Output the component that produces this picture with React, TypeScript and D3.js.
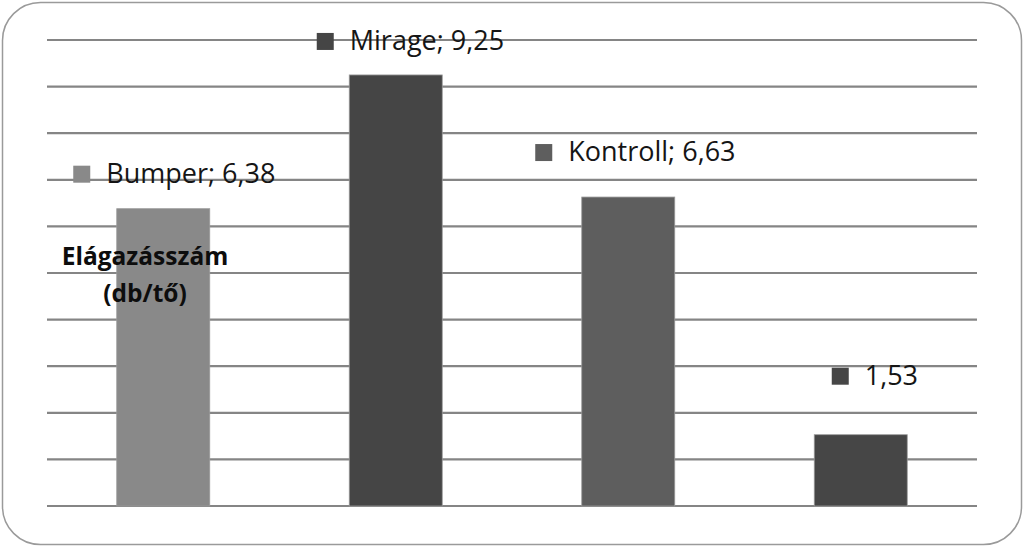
import * as d3 from 'd3';
import React, { useEffect, useRef } from 'react';

// values
const categories = ['Bumper', 'Mirage', 'Kontroll', ''];
const values = [6.38, 9.25, 6.63, 1.53];
const valueLabels = ['6,38', '9,25', '6,63', '1,53'];
const barColors = ['#898989', '#454545', '#5e5e5e', '#464646'];
const yTicks = [0, 1, 2, 3, 4, 5, 6, 7, 8, 9, 10];

// hand-placed label offsets (Excel labels were dragged)
const labelDx = [-90, -79, -93, -29];
const labelDy = [26, 25, 36, 50];

const App: React.FC = () => {
  const svgRef = useRef<SVGSVGElement>(null);
  const width = 1024;
  const height = 547;

  useEffect(() => {
    if (!svgRef.current) return;
    const svg = d3.select(svgRef.current);
    svg.selectAll('*').remove();

    const margin = { top: 40, right: 47, bottom: 41, left: 47 };
    const innerWidth = width - margin.left - margin.right;
    const innerHeight = height - margin.top - margin.bottom;

    svg.append('rect')
      .attr('x', 2.5)
      .attr('y', 2.5)
      .attr('width', width - 5)
      .attr('height', height - 5)
      .attr('rx', 38)
      .attr('fill', '#fff')
      .attr('stroke', '#9a9a9a')
      .attr('stroke-width', 1.5);

    const g = svg.append('g')
      .attr('transform', `translate(${margin.left}, ${margin.top})`);

    const x = d3.scaleBand<number>()
      .domain(d3.range(categories.length))
      .range([0, innerWidth])
      .paddingInner(0.6)
      .paddingOuter(0.3);

    const y = d3.scaleLinear()
      .domain([0, 10])
      .range([innerHeight, 0]);

    g.selectAll('.grid')
      .data(yTicks)
      .join('line')
      .attr('class', 'grid')
      .attr('x1', 0)
      .attr('x2', innerWidth)
      .attr('y1', d => y(d))
      .attr('y2', d => y(d))
      .attr('stroke', '#858585')
      .attr('stroke-width', 2.2);

    g.selectAll('.bar')
      .data(values)
      .join('rect')
      .attr('class', 'bar')
      .attr('x', (_, i) => x(i)!)
      .attr('y', d => y(d))
      .attr('width', x.bandwidth())
      .attr('height', d => innerHeight - y(d))
      .attr('fill', (_, i) => barColors[i])
      .attr('stroke', '#9a9a9a')
      .attr('stroke-width', 0.8);

    // data labels: legend key + "Name; value"
    const labels = g.selectAll('.lbl')
      .data(values)
      .join('g')
      .attr('class', 'lbl')
      .attr('transform', (d, i) =>
        `translate(${x(i)! + x.bandwidth() / 2 + labelDx[i]}, ${y(d) - labelDy[i]})`);

    labels.append('rect')
      .attr('x', 0)
      .attr('y', -17)
      .attr('width', 17)
      .attr('height', 17)
      .attr('fill', (_, i) => barColors[i]);

    labels.append('text')
      .attr('x', 33)
      .attr('y', 0)
      .style('font-family', '"Open Sans", sans-serif')
      .style('font-size', '27px')
      .attr('fill', '#151515')
      .text((_, i) => categories[i] ? `${categories[i]}; ${valueLabels[i]}` : valueLabels[i]);

    // axis title
    const title = svg.append('text')
      .attr('text-anchor', 'middle')
      .style('font-family', '"Open Sans", sans-serif')
      .style('font-size', '24.5px')
      .style('font-weight', 'bold')
      .attr('fill', '#0d0d0d');
    title.append('tspan').attr('x', 145).attr('y', 265).text('Elágazásszám');
    title.append('tspan').attr('x', 145).attr('y', 302).text('(db/tő)');
  }, []);

  return (
    <div style={{ position: 'fixed', left: 0, top: 0, background: '#fff' }}>
      <svg ref={svgRef} width={width} height={height} style={{ display: 'block' }} />
    </div>
  );
};

export default App;
